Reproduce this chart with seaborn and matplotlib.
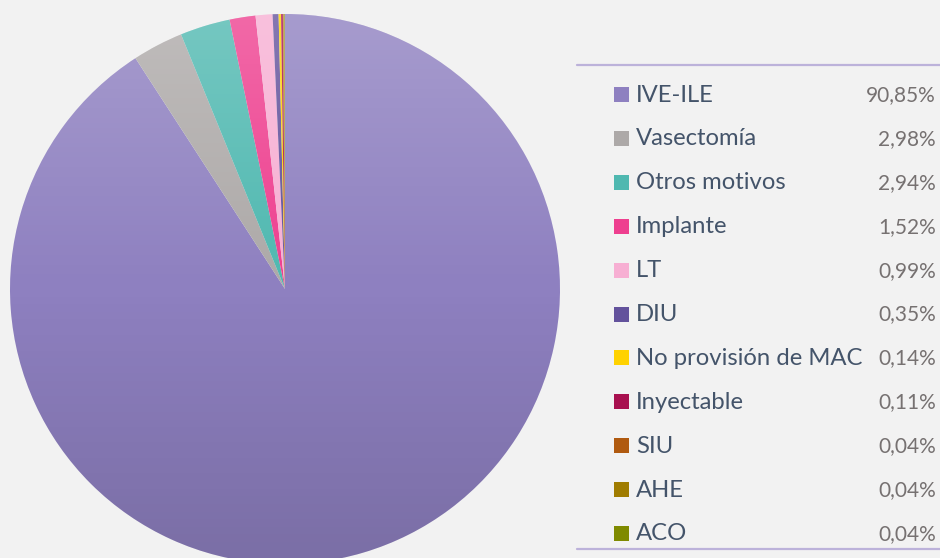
import numpy as np
import matplotlib
matplotlib.use("Agg")
import matplotlib.pyplot as plt
import seaborn as sns
from matplotlib.patches import Circle, Rectangle

categories = ["IVE-ILE", "Vasectomía", "Otros motivos", "Implante", "LT", "DIU",
              "No provisión de MAC", "Inyectable", "SIU", "AHE", "ACO"]
values = [90.85, 2.98, 2.94, 1.52, 0.99, 0.35, 0.14, 0.11, 0.04, 0.04, 0.04]
pct_labels = ["90,85%", "2,98%", "2,94%", "1,52%", "0,99%", "0,35%", "0,14%",
              "0,11%", "0,04%", "0,04%", "0,04%"]
colors = ["#8E80C0", "#ADA9A8", "#4FB8B0", "#EE3F8F", "#F7AFD3", "#63529C",
          "#FFD200", "#A8104F", "#B05A10", "#A07C00", "#7F8A00"]

sns.set_theme(style="white")
plt.rcParams["font.family"] = ["Lato", "DejaVu Sans"]
BG = "#F2F2F2"

fig = plt.figure(figsize=(9.4, 5.58), dpi=100, facecolor=BG)

# Pie axes (pixel geometry: center ~ (285, 289), radius ~275)
W, H = 940, 558
cx, cy, r = 285, 289, 275
ax = fig.add_axes([(cx - r) / W, (H - cy - r) / H, 2 * r / W, 2 * r / H])
ax.set_facecolor(BG)
wedges, _ = ax.pie(values, colors=colors, startangle=90, counterclock=False,
                   radius=1.0, wedgeprops=dict(linewidth=0))
ax.set_xlim(-1, 1)
ax.set_ylim(-1, 1)
ax.set_aspect("equal")
ax.axis("off")

# gradient overlay: lighter at top, darker at bottom
n = 256
grad = np.zeros((n, 2, 4))
t = np.linspace(0, 1, n)[:, None]  # 0 top -> 1 bottom
grad[..., 0:3] = np.where(t < 0.5, 1.0, 0.0)[..., None]
grad[..., 3] = np.where(t < 0.5, 0.22 * (0.5 - t) * 2, 0.14 * (t - 0.5) * 2)
im = ax.imshow(grad, extent=[-1, 1, -1, 1], origin="upper", aspect="auto", zorder=3)
im.set_clip_path(Circle((0, 0), 1.0, transform=ax.transData))

# Legend table axes (pixel coordinates)
lax = fig.add_axes([0, 0, 1, 1])
lax.set_xlim(0, W)
lax.set_ylim(H, 0)
lax.axis("off")
lax.patch.set_alpha(0)

line_color = "#BCB2DA"
lax.plot([577, 940], [65, 65], color=line_color, lw=1.6)
lax.plot([577, 940], [549, 549], color=line_color, lw=1.6)

y0, dy = 95, 43.9
for i, (cat, pct, col) in enumerate(zip(categories, pct_labels, colors)):
    y = y0 + i * dy
    lax.add_patch(Rectangle((614, y - 8), 15, 15, facecolor=col, edgecolor="none"))
    lax.text(636, y, cat, fontsize=17.2, color="#44546A", va="center", ha="left")
    lax.text(936, y, pct, fontsize=15, color="#767171", va="center", ha="right")

fig.savefig("out.png", dpi=100, facecolor=BG)
